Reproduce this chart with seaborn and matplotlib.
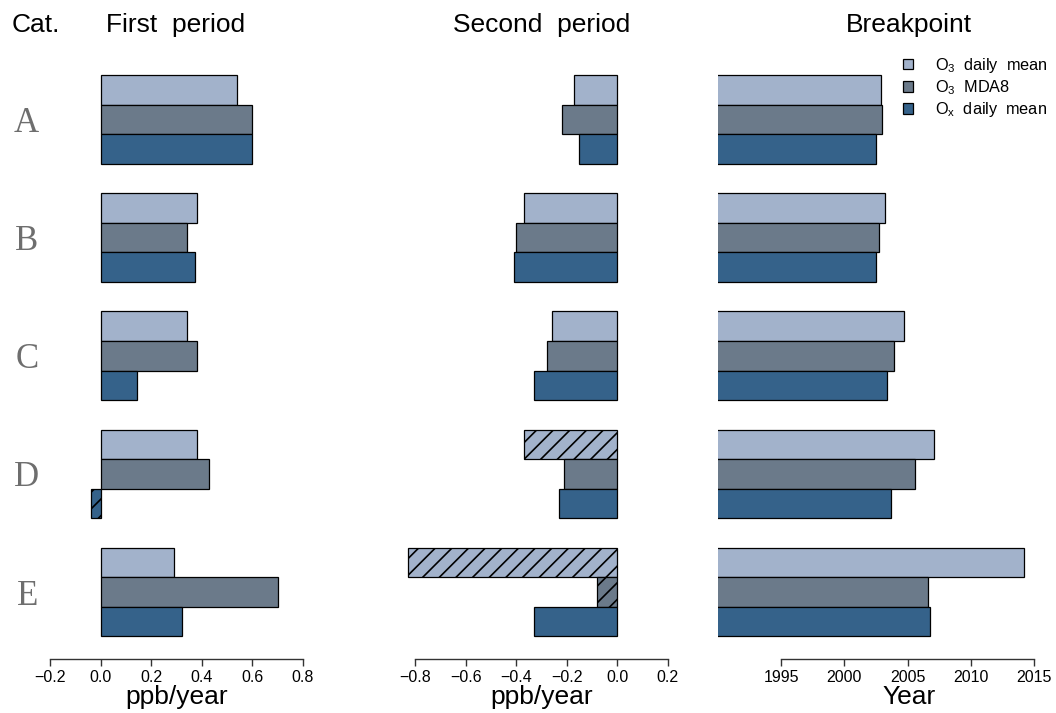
import numpy as np
import pandas as pd
import matplotlib
matplotlib.use("Agg")
import matplotlib.pyplot as plt
from matplotlib.patches import Patch
import seaborn as sns

# ---- data -------------------------------------------------------------
categories = ["A", "B", "C", "D", "E"]
series = [r"O$\mathregular{_3}$  daily  mean", r"O$\mathregular{_3}$  MDA8",
          r"O$\mathregular{_x}$  daily  mean"]

# trend in the first period (ppb/year), one list per series
first_o3_mean = [0.54, 0.38, 0.34, 0.38, 0.29]
first_o3_mda8 = [0.60, 0.34, 0.38, 0.43, 0.70]
first_ox_mean = [0.60, 0.375, 0.145, -0.037, 0.32]

# trend in the second period (ppb/year)
second_o3_mean = [-0.17, -0.37, -0.26, -0.37, -0.83]
second_o3_mda8 = [-0.22, -0.40, -0.28, -0.21, -0.08]
second_ox_mean = [-0.15, -0.41, -0.33, -0.23, -0.33]

# breakpoint year
bp_o3_mean = [2002.9, 2003.2, 2004.75, 2007.1, 2014.2]
bp_o3_mda8 = [2003.0, 2002.7, 2003.9, 2005.6, 2006.6]
bp_ox_mean = [2002.5, 2002.5, 2003.4, 2003.65, 2006.8]

# non-significant trends (drawn hatched)
first_nonsig = [[False] * 5, [False] * 5, [False, False, False, True, False]]
second_nonsig = [[False, False, False, True, True],
                 [False, False, False, False, True],
                 [False] * 5]

# axis ticks
first_ticks = [-0.2, 0.0, 0.2, 0.4, 0.6, 0.8]
second_ticks = [-0.8, -0.6, -0.4, -0.2, 0.0, 0.2]
year_ticks = [1995, 2000, 2005, 2010, 2015]

palette = ["#A2B2CB", "#6B7A8A", "#35628A"]


def long_frame(a, b, c):
    rows = []
    for name, vals in zip(series, (a, b, c)):
        for cat, v in zip(categories, vals):
            rows.append({"cat": cat, "series": name, "value": v})
    return pd.DataFrame(rows)


df_first = long_frame(first_o3_mean, first_o3_mda8, first_ox_mean)
df_second = long_frame(second_o3_mean, second_o3_mda8, second_ox_mean)
df_bp = long_frame(bp_o3_mean, bp_o3_mda8, bp_ox_mean)

# ---- figure -----------------------------------------------------------
sns.set_style("white")
plt.rcParams["font.family"] = ["Liberation Sans", "DejaVu Sans"]
plt.rcParams["hatch.linewidth"] = 1.2
plt.rcParams["text.color"] = "black"
plt.rcParams["axes.labelcolor"] = "black"
plt.rcParams["xtick.color"] = "black"

W, H = 1056, 713
fig = plt.figure(figsize=(W / 100, H / 100), dpi=100)

top_px, bot_px = 55, 659
ylim = (4.567, -0.546)


def make_ax(x0, x1):
    return fig.add_axes([x0 / W, 1 - bot_px / H, (x1 - x0) / W, (bot_px - top_px) / H])


ax1 = make_ax(40, 313)
ax2 = make_ax(405, 678)
ax3 = make_ax(718, 1048)

panels = [
    (ax1, df_first, (-0.24, 0.84), first_ticks, first_nonsig),
    (ax2, df_second, (-0.84, 0.24), second_ticks, second_nonsig),
    (ax3, df_bp, (1990, 2016.1), year_ticks, None),
]

for ax, df, xlim, ticks, nonsig in panels:
    sns.barplot(data=df, y="cat", x="value", hue="series", hue_order=series,
                order=categories, palette=palette, orient="h", width=0.75,
                edgecolor="black", linewidth=0.9, saturation=1, legend=False,
                ax=ax)
    if nonsig is not None:
        for cont, flags in zip(ax.containers, nonsig):
            for bar, f in zip(cont, flags):
                if f:
                    bar.set_hatch("//")
    ax.set_xlim(*xlim)
    ax.set_ylim(*ylim)
    for s in ("top", "right", "left"):
        ax.spines[s].set_visible(False)
    ax.spines["bottom"].set_bounds(ticks[0], ticks[-1])
    ax.spines["bottom"].set_color("#333333")
    ax.spines["bottom"].set_linewidth(1.0)
    ax.set_xticks(ticks)
    if ax is ax3:
        ax.set_xticklabels([str(t) for t in ticks])
    else:
        ax.set_xticklabels([f"{t:.1f}".replace("-", "\u2212") for t in ticks])
    ax.tick_params(axis="x", direction="out", length=5, width=1.0, color="#333333",
                   labelsize=11.5, pad=3, bottom=True)
    ax.set_ylabel("")
    ax.set_yticks([])

ax1.set_xlabel("ppb/year", fontsize=19, labelpad=0)
ax2.set_xlabel("ppb/year", fontsize=19, labelpad=0)
ax3.set_xlabel("Year", fontsize=19, labelpad=0)
# centre the year label under the tick range rather than the whole panel
ax3.xaxis.label.set_x((909 - 718) / 330)

# category labels
ax1.set_yticks(range(len(categories)))
ax1.set_yticklabels(categories, family=["Liberation Serif", "DejaVu Serif"],
                    fontsize=25, color="#6E6E6E")
ax1.tick_params(axis="y", length=0, pad=1)

# column headers
for txt, xc in [("Cat.", 36), ("First  period", 176), ("Second  period", 542),
                ("Breakpoint", 909)]:
    fig.text(xc / W, 1 - 25 / H, txt, ha="center", va="center", fontsize=19)

# legend
handles = [Patch(facecolor=c, edgecolor="black", linewidth=0.9) for c in palette]
fig.legend(handles, series, loc="upper left", bbox_to_anchor=(903 / W, 1 - 56 / H),
           frameon=False, fontsize=11.7, handlelength=0.6, handleheight=0.6,
           handletextpad=1.35, labelspacing=0.2, borderpad=0, borderaxespad=0)

fig.savefig("out.png", dpi=100)
